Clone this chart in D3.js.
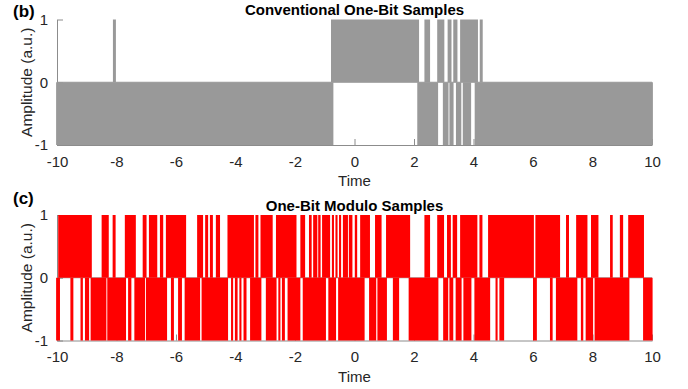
<!DOCTYPE html>
<html>
<head>
<meta charset="utf-8">
<script src="https://cdn.jsdelivr.net/npm/d3@7"></script>
<style>
  body { margin: 0; background: #fff; }
  svg { display: block; font-family: "Liberation Sans", Arial, Helvetica, sans-serif; }
</style>
</head>
<body>
<script>
// time intervals [start, end] where the stems are drawn at +1 or -1
const convUp = [[-8.12, -8.02], [-0.79, 2.17], [2.35, 2.54], [2.78, 3.02], [3.13, 3.26],
  [3.32, 3.46], [3.55, 4.15], [4.21, 4.31]];
const convDown = [[-10.03, -0.71], [2.11, 2.81], [2.97, 3.16], [3.19, 3.33], [3.41, 3.59],
  [3.64, 3.92], [4.04, 10.03]];

const modUp = [[-9.96, -8.83], [-8.50, -8.26], [-8.13, -8.03], [-7.72, -7.35], [-7.12, -6.99],
  [-6.91, -6.63], [-6.54, -6.43], [-6.34, -5.66], [-5.29, -5.09], [-5.02, -4.92],
  [-4.86, -4.76], [-4.66, -4.52], [-4.27, -3.38], [-3.33, -3.23], [-3.16, -2.75],
  [-2.64, -1.95], [-1.82, -1.66], [-1.53, -1.44], [-1.39, -1.25], [-1.22, -1.14],
  [-1.09, -0.82], [-0.76, -0.69], [-0.64, -0.57], [-0.52, -0.45], [-0.39, -0.22],
  [-0.19, -0.07], [0.01, 0.09], [0.19, 0.52], [0.69, 0.91], [1.06, 1.87],
  [2.35, 2.54], [2.78, 3.01], [3.11, 3.24], [3.30, 3.45], [3.55, 4.13],
  [4.20, 4.30], [4.49, 6.03], [6.08, 6.91], [7.11, 7.21], [7.45, 7.83],
  [7.95, 8.20], [8.59, 8.68], [8.92, 9.03], [9.20, 9.73]];
const modDown = [[-10.03, -9.90], [-9.55, -9.45], [-9.21, -9.13], [-9.06, -8.92], [-8.87, -8.34],
  [-8.31, -7.68], [-7.61, -7.50], [-7.40, -7.04], [-7.01, -6.30], [-6.17, -6.07],
  [-5.93, -5.80], [-5.71, -5.19], [-5.14, -4.25], [-4.15, -4.08], [-4.02, -3.93],
  [-3.87, -3.80], [-3.73, -3.63], [-3.51, -3.13], [-2.98, -2.62], [-2.56, -2.49],
  [-2.44, -2.34], [-2.25, -1.82], [-1.74, -0.96], [-0.88, -0.62], [-0.55, 0.34],
  [0.49, 0.73], [0.77, 1.09], [1.29, 1.50], [1.82, 2.82], [2.98, 3.15],
  [3.19, 3.32], [3.40, 3.60], [3.66, 3.93], [4.03, 4.56], [4.74, 4.81],
  [4.87, 5.03], [6.00, 6.13], [6.57, 6.66], [6.77, 7.49], [7.61, 7.69],
  [7.77, 8.02], [8.07, 9.24], [9.70, 10.02]];

const xTicks = [-10, -8, -6, -4, -2, 0, 2, 4, 6, 8, 10];
const yTicks = [-1, 0, 1];

const panels = [
  {tag: "(b)", title: "Conventional One-Bit Samples", up: convUp, down: convDown, color: "#999999", top: 19.5, tagY: 17},
  {tag: "(c)", title: "One-Bit Modulo Samples", up: modUp, down: modDown, color: "#ff0000", top: 215, tagY: 204}
];

const W = 688, H = 389;
const plotH = 125.5;

const svg = d3.select("body").append("svg")
  .attr("width", W)
  .attr("height", H);

const x = d3.scaleLinear().domain([-10, 10]).range([57, 652]);
const fmt = d => String(d);

panels.forEach(p => {
  const y = d3.scaleLinear().domain([-1, 1]).range([p.top + plotH, p.top]);
  const g = svg.append("g");

  // axes go underneath the stems
  const xAxis = g.append("g")
    .attr("transform", `translate(0,${y(-1)})`)
    .call(d3.axisBottom(x).tickValues(xTicks).tickFormat(fmt).tickSizeInner(-6).tickSizeOuter(0).tickPadding(11));
  const yAxis = g.append("g")
    .attr("transform", `translate(${x(-10)},0)`)
    .call(d3.axisLeft(y).tickValues(yTicks).tickFormat(fmt).tickSizeInner(-6).tickSizeOuter(0).tickPadding(9));

  [xAxis, yAxis].forEach(a => {
    a.select(".domain").attr("stroke", "#8c8c8c");
    a.selectAll(".tick line").attr("stroke", "#8c8c8c");
    a.selectAll(".tick text").attr("fill", "#262626").style("font-size", "15px");
  });

  // baseline at zero
  g.append("line")
    .attr("x1", x(-10)).attr("x2", x(10))
    .attr("y1", y(0)).attr("y2", y(0))
    .attr("stroke", "#9a9a9a");

  g.append("g").selectAll("rect.up")
    .data(p.up)
    .join("rect")
    .attr("x", d => x(d[0]))
    .attr("width", d => x(d[1]) - x(d[0]))
    .attr("y", y(1))
    .attr("height", y(0) - y(1))
    .attr("fill", p.color);

  g.append("g").selectAll("rect.down")
    .data(p.down)
    .join("rect")
    .attr("x", d => x(d[0]))
    .attr("width", d => x(d[1]) - x(d[0]))
    .attr("y", y(0))
    .attr("height", y(-1) - y(0))
    .attr("fill", p.color);

  g.append("text")
    .attr("x", (x(-10) + x(10)) / 2)
    .attr("y", p.top - 4.5)
    .attr("text-anchor", "middle")
    .attr("font-weight", "bold")
    .style("font-size", "15px")
    .attr("fill", "#000")
    .text(p.title);

  g.append("text")
    .attr("x", 13)
    .attr("y", p.tagY)
    .attr("font-weight", "bold")
    .style("font-size", "17px")
    .attr("fill", "#000")
    .text(p.tag);

  g.append("text")
    .attr("x", (x(-10) + x(10)) / 2)
    .attr("y", y(-1) + 41)
    .attr("text-anchor", "middle")
    .style("font-size", "15px")
    .attr("fill", "#262626")
    .text("Time");

  g.append("text")
    .attr("transform", `translate(32,${y(0)}) rotate(-90)`)
    .attr("text-anchor", "middle")
    .style("font-size", "15.5px")
    .attr("fill", "#262626")
    .text("Amplitude (a.u.)");
});
</script>
</body>
</html>
